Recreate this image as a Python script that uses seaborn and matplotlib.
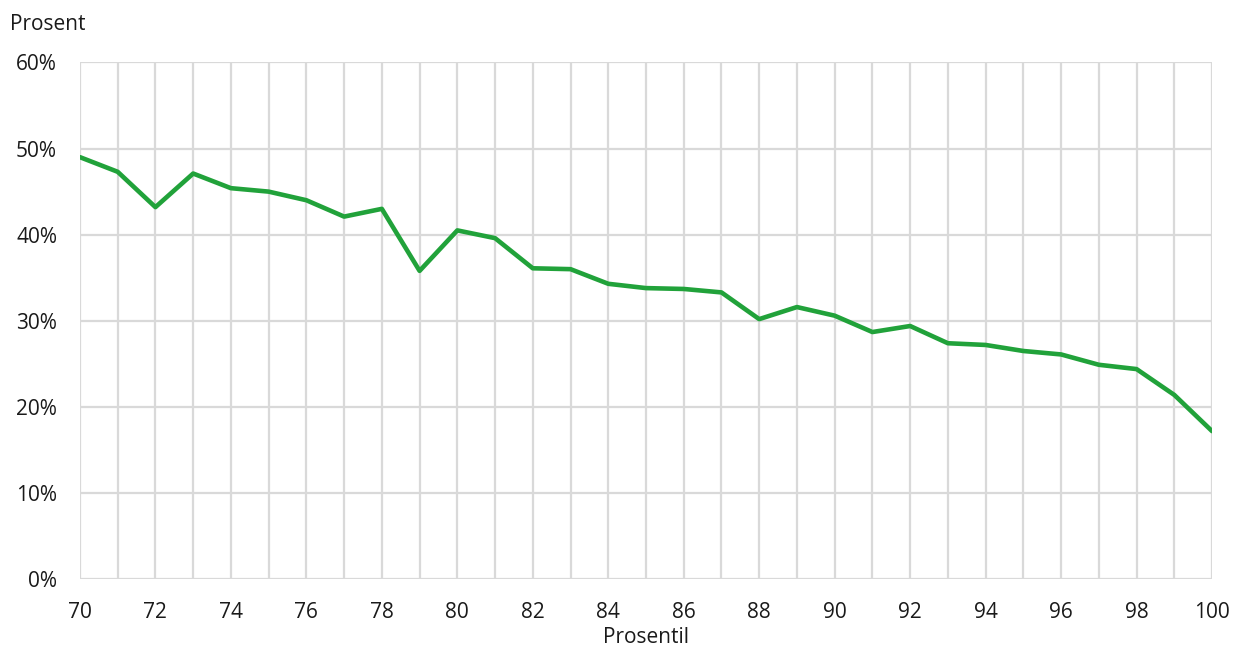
import numpy as np
import pandas as pd
import matplotlib
matplotlib.use("Agg")
import matplotlib.pyplot as plt
import seaborn as sns
from matplotlib.ticker import MultipleLocator, FuncFormatter

percentiles = list(range(70, 101))
shares = [49.0, 47.3, 43.2, 47.1, 45.4, 45.0, 44.0, 42.1, 43.0, 35.8,
          40.5, 39.6, 36.1, 36.0, 34.3, 33.8, 33.7, 33.3, 30.2, 31.6,
          30.6, 28.7, 29.4, 27.4, 27.2, 26.5, 26.1, 24.9, 24.4, 21.4, 17.2]
y_ticks = [0, 10, 20, 30, 40, 50, 60]
x_ticks = list(range(70, 101, 2))

df = pd.DataFrame({"Prosentil": percentiles, "Prosent": shares})

sns.set_theme(style="white")
plt.rcParams['font.family'] = ['Open Sans', 'DejaVu Sans']

fig = plt.figure(figsize=(12.34, 6.5), dpi=100)
ax = fig.add_axes([0.0648, 0.1088, 0.9174, 0.7952])

sns.lineplot(data=df, x="Prosentil", y="Prosent", ax=ax, color="#21a23a", linewidth=3.3, zorder=3)

ax.set_xlim(70, 100)
ax.set_ylim(0, 60)
ax.set_yticks(y_ticks)
ax.yaxis.set_major_formatter(FuncFormatter(lambda v, p: f"{int(v)}%"))
ax.set_xticks(x_ticks)
ax.xaxis.set_minor_locator(MultipleLocator(1))
ax.grid(True, which="both", axis="x", color="#d9d9d9", linewidth=1.6)
ax.grid(True, which="major", axis="y", color="#d9d9d9", linewidth=1.6)
ax.set_axisbelow(True)
for s in ax.spines.values():
    s.set_visible(False)
ax.tick_params(axis="both", which="both", length=0, labelsize=15, colors="#1a1a1a")
ax.tick_params(axis="x", pad=16.5)
ax.tick_params(axis="y", pad=16.5)
ax.set_xlabel("Prosentil", fontsize=15, labelpad=3, color="#1a1a1a")
ax.set_ylabel("")
fig.text(10/1234, 1 - 25/650, "Prosent", fontsize=15, ha="left", va="center", color="#1a1a1a")

fig.savefig("out.png", dpi=100)
